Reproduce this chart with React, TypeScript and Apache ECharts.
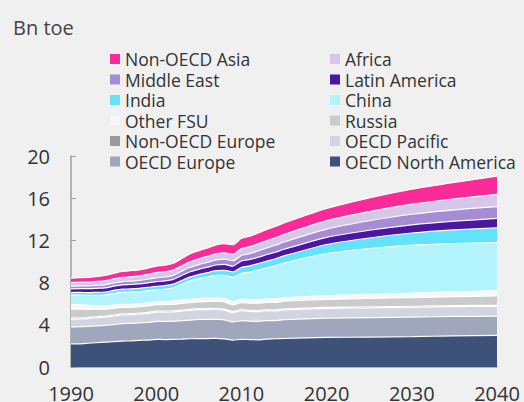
import React, { useEffect, useRef } from "react";
import * as echarts from "echarts";

const years = [
  1990, 1991, 1992, 1993, 1994, 1995, 1996, 1997, 1998, 1999,
  2000, 2001, 2002, 2003, 2004, 2005, 2006, 2007, 2008, 2009,
  2010, 2011, 2012, 2013, 2014, 2015, 2020, 2025, 2030, 2035, 2040,
];

const oecdNorthAmerica = [2.2, 2.2, 2.25, 2.3, 2.35, 2.4, 2.45, 2.48, 2.53, 2.55, 2.62, 2.6, 2.62, 2.64, 2.68, 2.7, 2.69, 2.72, 2.66, 2.55, 2.62, 2.6, 2.58, 2.64, 2.68, 2.7, 2.8, 2.84, 2.88, 2.95, 3.0];
const oecdEurope = [1.6, 1.62, 1.6, 1.6, 1.6, 1.62, 1.66, 1.65, 1.66, 1.67, 1.7, 1.72, 1.72, 1.75, 1.77, 1.8, 1.82, 1.81, 1.8, 1.72, 1.78, 1.74, 1.75, 1.76, 1.72, 1.78, 1.82, 1.84, 1.85, 1.84, 1.82];
const oecdPacific = [0.72, 0.73, 0.74, 0.76, 0.78, 0.8, 0.82, 0.83, 0.83, 0.85, 0.88, 0.88, 0.89, 0.9, 0.92, 0.93, 0.93, 0.94, 0.93, 0.88, 0.93, 0.92, 0.92, 0.93, 0.92, 0.93, 0.93, 0.93, 0.93, 0.93, 0.93];
const nonOecdEurope = [0.12, 0.11, 0.1, 0.1, 0.1, 0.1, 0.1, 0.1, 0.1, 0.1, 0.1, 0.1, 0.1, 0.1, 0.1, 0.1, 0.1, 0.1, 0.1, 0.1, 0.1, 0.1, 0.1, 0.1, 0.1, 0.1, 0.1, 0.1, 0.1, 0.1, 0.1];
const russia = [0.85, 0.83, 0.78, 0.72, 0.66, 0.64, 0.62, 0.6, 0.6, 0.61, 0.62, 0.62, 0.62, 0.64, 0.64, 0.65, 0.67, 0.68, 0.68, 0.64, 0.68, 0.7, 0.7, 0.69, 0.7, 0.72, 0.76, 0.79, 0.82, 0.85, 0.88];
const otherFsu = [0.45, 0.42, 0.38, 0.34, 0.31, 0.3, 0.3, 0.29, 0.29, 0.3, 0.3, 0.3, 0.3, 0.31, 0.31, 0.31, 0.32, 0.32, 0.32, 0.3, 0.32, 0.32, 0.32, 0.33, 0.33, 0.33, 0.35, 0.38, 0.42, 0.46, 0.5];
const china = [0.87, 0.9, 0.93, 0.98, 1.02, 1.1, 1.12, 1.14, 1.12, 1.13, 1.1, 1.15, 1.25, 1.5, 1.75, 1.88, 2.0, 2.12, 2.2, 2.3, 2.45, 2.62, 2.82, 2.95, 3.15, 3.3, 4.0, 4.35, 4.55, 4.57, 4.57];
const india = [0.25, 0.26, 0.27, 0.28, 0.29, 0.3, 0.31, 0.31, 0.32, 0.33, 0.33, 0.34, 0.35, 0.36, 0.37, 0.39, 0.41, 0.44, 0.47, 0.52, 0.57, 0.59, 0.62, 0.64, 0.66, 0.68, 0.85, 1.0, 1.15, 1.3, 1.4];
const latinAmerica = [0.35, 0.36, 0.37, 0.38, 0.39, 0.4, 0.41, 0.42, 0.43, 0.44, 0.45, 0.45, 0.46, 0.47, 0.49, 0.5, 0.52, 0.54, 0.56, 0.55, 0.6, 0.61, 0.61, 0.62, 0.62, 0.62, 0.68, 0.73, 0.78, 0.83, 0.88];
const middleEast = [0.25, 0.26, 0.27, 0.28, 0.29, 0.3, 0.31, 0.32, 0.33, 0.34, 0.35, 0.37, 0.38, 0.4, 0.42, 0.45, 0.46, 0.48, 0.5, 0.51, 0.52, 0.55, 0.59, 0.63, 0.66, 0.69, 0.78, 0.9, 1.0, 1.07, 1.13];
const africa = [0.35, 0.36, 0.36, 0.37, 0.38, 0.39, 0.4, 0.41, 0.42, 0.46, 0.5, 0.5, 0.5, 0.52, 0.54, 0.55, 0.56, 0.58, 0.6, 0.62, 0.65, 0.66, 0.68, 0.7, 0.71, 0.72, 0.8, 0.87, 0.95, 1.05, 1.15];
const nonOecdAsia = [0.42, 0.42, 0.45, 0.47, 0.5, 0.53, 0.56, 0.58, 0.57, 0.59, 0.62, 0.63, 0.65, 0.69, 0.76, 0.77, 0.81, 0.85, 0.88, 0.9, 0.98, 1.0, 1.03, 1.05, 1.07, 1.08, 1.15, 1.3, 1.42, 1.55, 1.72];

// bottom-to-top stacking order
const seriesDefs = [
  { name: "OECD North America", data: oecdNorthAmerica, color: "#3e5179" },
  { name: "OECD Europe", data: oecdEurope, color: "#a0a7bc" },
  { name: "OECD Pacific", data: oecdPacific, color: "#d2d5df" },
  { name: "Non-OECD Europe", data: nonOecdEurope, color: "#9a9a9a" },
  { name: "Russia", data: russia, color: "#cbcbcb" },
  { name: "Other FSU", data: otherFsu, color: "#f7f7f7" },
  { name: "China", data: china, color: "#b2f3fc" },
  { name: "India", data: india, color: "#62e3f9" },
  { name: "Latin America", data: latinAmerica, color: "#4b16a0" },
  { name: "Middle East", data: middleEast, color: "#a78bd4" },
  { name: "Africa", data: africa, color: "#d6c7e9" },
  { name: "Non-OECD Asia", data: nonOecdAsia, color: "#fb2a99" },
];

const legendLeft = ["Non-OECD Asia", "Middle East", "India", "Other FSU", "Non-OECD Europe", "OECD Europe"];
const legendRight = ["Africa", "Latin America", "China", "Russia", "OECD Pacific", "OECD North America"];

const FONT = "'Open Sans', 'Noto Sans', sans-serif";

export default function App() {
  const ref = useRef<HTMLDivElement>(null);
  useEffect(() => {
    if (!ref.current) return;
    const chart = echarts.init(ref.current, null, { renderer: "svg" });

    // running totals, so each layer's top edge sits on the ones beneath it
    const running = years.map(() => 0);
    const stacked = seriesDefs.map((s) => {
      const tops = s.data.map((v, i) => (running[i] += v));
      return { ...s, tops };
    });

    const legendBase = {
      orient: "vertical" as const,
      top: 50,
      padding: 0,
      itemWidth: 10,
      itemHeight: 10,
      itemGap: 2.5,
      icon: "rect",
      selectedMode: false,
      textStyle: { fontSize: 17.5, color: "#333", fontFamily: FONT, lineHeight: 18 },
    };
    chart.setOption({
      animation: false,
      backgroundColor: "#f0f0f0",
      textStyle: { fontFamily: FONT },
      title: {
        text: "Bn toe",
        left: 8,
        top: 12,
        textStyle: { fontSize: 20, fontWeight: "normal", color: "#444", fontFamily: FONT },
      },
      legend: [
        { ...legendBase, left: 110, data: legendLeft },
        { ...legendBase, left: 330, data: legendRight },
      ],
      grid: { left: 71, right: 27, top: 156, bottom: 35, containLabel: false, outerBoundsMode: "none" },
      xAxis: {
        type: "value",
        min: 1990,
        max: 2040,
        interval: 10,
        axisLine: { show: true, lineStyle: { color: "#a0a0a0", width: 1.5 } },
        axisTick: { show: false },
        splitLine: { show: false },
        axisLabel: {
          fontSize: 20,
          color: "#333",
          margin: 16,
          fontFamily: FONT,
          formatter: (v: number) => String(v),
        },
      },
      yAxis: {
        type: "value",
        min: 0,
        max: 20,
        interval: 4,
        axisLine: { show: true, lineStyle: { color: "#a0a0a0", width: 1.5 } },
        axisTick: { show: true, inside: true, length: 5, lineStyle: { color: "#a0a0a0" } },
        splitLine: { show: false },
        axisLabel: { fontSize: 20, color: "#333", margin: 21, fontFamily: FONT },
      },
      // draw the top layer first, so each lower layer covers the part beneath it
      series: stacked
        .slice()
        .reverse()
        .map((s) => ({
          name: s.name,
          type: "line",
          smooth: 0.2,
          showSymbol: false,
          symbol: "none",
          color: s.color,
          lineStyle: { color: "#ffffff", width: 1.2 },
          areaStyle: { color: s.color, opacity: 1 },
          itemStyle: { color: s.color },
          data: years.map((y, i) => [y, s.tops[i]]),
        })),
    });
    return () => chart.dispose();
  }, []);
  return (
    <div
      ref={ref}
      style={{ position: "fixed", left: 0, top: 0, width: 524, height: 402, background: "#f0f0f0" }}
    />
  );
}
